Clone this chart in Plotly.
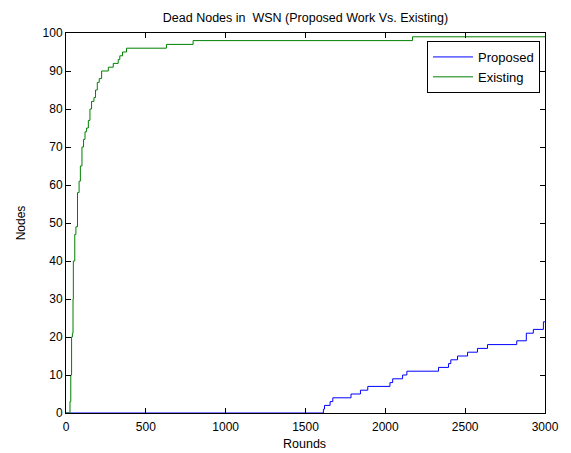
import plotly.graph_objects as go

# Proposed (blue) step data: rounds, dead nodes
prop_x = [0, 1612, 1619, 1654, 1671, 1785, 1844, 1890, 2029, 2046, 2108, 2135, 2333, 2396,
          2410, 2452, 2515, 2577, 2640, 2823, 2883, 2927, 2990, 3000]
prop_y = [0, 1, 2, 3, 4, 5, 6, 7, 8, 9, 10, 11, 12, 13,
          14, 15, 16, 17, 18, 19, 21, 22, 24, 24]

# Existing (green) step data
exist_x = [0, 21, 25, 30, 35, 40, 44, 46, 55, 62, 72, 82, 90, 100, 110, 119, 129, 140, 150,
           160, 175, 185, 196, 208, 223, 265, 296, 327, 337, 354, 379, 629, 796, 2170, 3000]
exist_y = [0, 0, 3, 10, 20, 21, 30, 40, 47, 49, 58, 61, 65, 70, 72, 74, 75, 77, 80,
           82, 83, 85, 87, 88, 90, 91, 92, 93, 94, 95, 96, 97, 98, 99, 99]

x_ticks = [0, 500, 1000, 1500, 2000, 2500, 3000]
y_ticks = [0, 10, 20, 30, 40, 50, 60, 70, 80, 90, 100]

fig = go.Figure()
fig.add_trace(go.Scatter(x=prop_x, y=prop_y, mode="lines", line_shape="hv",
                         line=dict(color="#0000ff", width=1), name="Proposed"))
fig.add_trace(go.Scatter(x=exist_x, y=exist_y, mode="lines", line_shape="hv",
                         line=dict(color="#008000", width=1), name="Existing"))

axis_common = dict(showgrid=False, zeroline=False, showline=True, linecolor="black",
                   linewidth=1, mirror="ticks", ticks="inside", ticklen=5,
                   tickcolor="black", tickfont=dict(size=12, color="black"))

fig.update_layout(
    width=571, height=453,
    margin=dict(l=66, r=24, t=33, b=40),
    paper_bgcolor="white", plot_bgcolor="white",
    font=dict(family="Liberation Sans, Arial, sans-serif", size=12, color="black"),
    title=dict(text="Dead Nodes in  WSN (Proposed Work Vs. Existing)",
               x=0.535, xanchor="center", y=0.962, yanchor="middle",
               font=dict(size=12.5)),
    xaxis=dict(range=[0, 3000], tickvals=x_ticks, ticklabelstandoff=3, **axis_common),
    yaxis=dict(range=[0, 100], tickvals=y_ticks,
               title=dict(text="Nodes", standoff=14, font=dict(size=12)), **axis_common),
    legend=dict(x=0.9896, y=0.979, xanchor="right", yanchor="top",
                bordercolor="black", borderwidth=1, bgcolor="white",
                font=dict(size=13), traceorder="normal", itemwidth=40),
    annotations=[dict(text="Rounds", xref="paper", yref="paper", x=0.497, y=-0.0816,
                      xanchor="center", yanchor="middle", showarrow=False,
                      font=dict(size=12.5))],
    showlegend=True,
)

fig.write_html("out.html")
